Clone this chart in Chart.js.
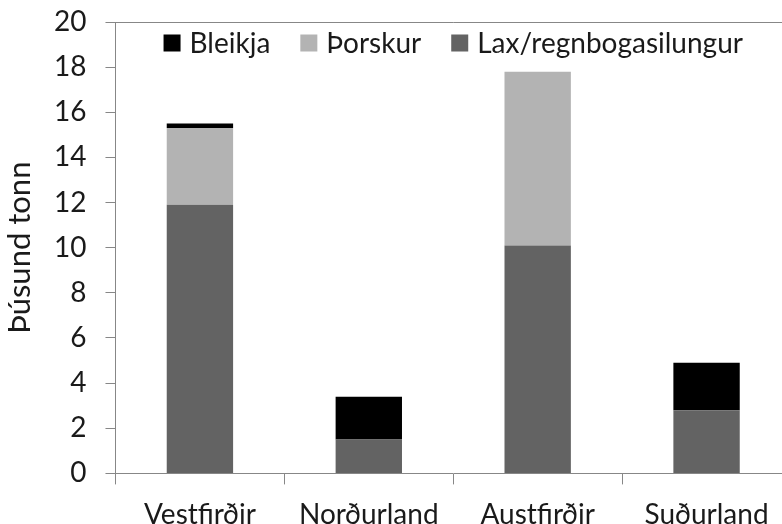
<!DOCTYPE html>
<html>
<head>
<meta charset="utf-8">
<script src="https://cdn.jsdelivr.net/npm/chart.js@4.4.1/dist/chart.umd.min.js"></script>
<style>
  html, body { margin: 0; padding: 0; background: #fff; overflow: hidden; }
  #wrap { width: 791px; height: 546px; }
</style>
</head>
<body>
<div id="wrap"><canvas id="chart"></canvas></div>
<script>
// Data (þúsund tonn)
const regions = ['Vestfirðir', 'Norðurland', 'Austfirðir', 'Suðurland'];
const lax = [11.9, 1.5, 10.1, 2.8];
const thorskur = [3.4, 0, 7.7, 0];
const bleikja = [0.2, 1.9, 0, 2.1];
const yTicks = [0, 2, 4, 6, 8, 10, 12, 14, 16, 18, 20];

const axisGray = '#878787';
const textColor = '#1a1a1a';
const font = 'Lato, "Open Sans", sans-serif';

// top border of the plot area
const topLine = {
    id: 'topLine',
    afterDraw(chart) {
        const { ctx, chartArea } = chart;
        ctx.save();
        ctx.strokeStyle = axisGray;
        ctx.lineWidth = 1;
        ctx.beginPath();
        ctx.moveTo(chartArea.left, chartArea.top + 0.5);
        ctx.lineTo(chartArea.right, chartArea.top + 0.5);
        ctx.stroke();
        ctx.restore();
    }
};

// horizontal legend drawn inside the plot, last dataset first
const innerLegend = {
    id: 'innerLegend',
    afterDraw(chart) {
        const { ctx, chartArea } = chart;
        const items = chart.data.datasets.slice().reverse();
        const box = 17, gapText = 9, gapItem = 30;
        ctx.save();
        ctx.font = '28px ' + font;
        ctx.textBaseline = 'middle';
        const widths = items.map(d => box + gapText + ctx.measureText(d.label).width);
        const total = widths.reduce((a, b) => a + b, 0) + gapItem * (items.length - 1);
        let x = (chartArea.left + chartArea.right) / 2 - total / 2;
        const y = chartArea.top + 21;
        items.forEach((d, i) => {
            ctx.fillStyle = d.backgroundColor;
            ctx.fillRect(x, y - box / 2, box, box);
            ctx.fillStyle = textColor;
            ctx.fillText(d.label, x + box + gapText, y + 1);
            x += widths[i] + gapItem;
        });
        ctx.restore();
    }
};

new Chart(document.getElementById('chart'), {
    type: 'bar',
    data: {
        labels: regions,
        datasets: [
            { label: 'Lax/regnbogasilungur', data: lax, backgroundColor: '#636363' },
            { label: 'Þorskur', data: thorskur, backgroundColor: '#b3b3b3' },
            { label: 'Bleikja', data: bleikja, backgroundColor: '#000000' }
        ]
    },
    options: {
        responsive: true,
        maintainAspectRatio: false,
        animation: false,
        layout: { padding: { top: 0, right: 0, bottom: 0, left: 0 } },
        datasets: { bar: { barPercentage: 0.393, categoryPercentage: 1 } },
        plugins: {
            tooltip: { enabled: false },
            legend: { display: false }
        },
        scales: {
            x: {
                stacked: true,
                grid: { drawOnChartArea: false, drawTicks: true, tickLength: 11, color: axisGray },
                border: { color: axisGray },
                ticks: { color: textColor, padding: 14, font: { family: font, size: 28 } }
            },
            y: {
                stacked: true,
                min: 0,
                max: 20,
                afterBuildTicks: axis => { axis.ticks = yTicks.map(v => ({ value: v })); },
                // keep the wide label gap from pushing the plot top down
                afterFit: axis => { axis.paddingTop = 22; },
                grid: { drawOnChartArea: false, drawTicks: true, tickLength: 10, color: axisGray },
                border: { color: axisGray },
                ticks: { color: textColor, padding: 19, font: { family: font, size: 28 } },
                title: {
                    display: true, text: 'Þúsund tonn', color: textColor,
                    padding: { top: 4, bottom: 0 },
                    font: { family: font, size: 31, lineHeight: 1 }
                }
            }
        }
    },
    plugins: [topLine, innerLegend]
});
</script>
</body>
</html>
